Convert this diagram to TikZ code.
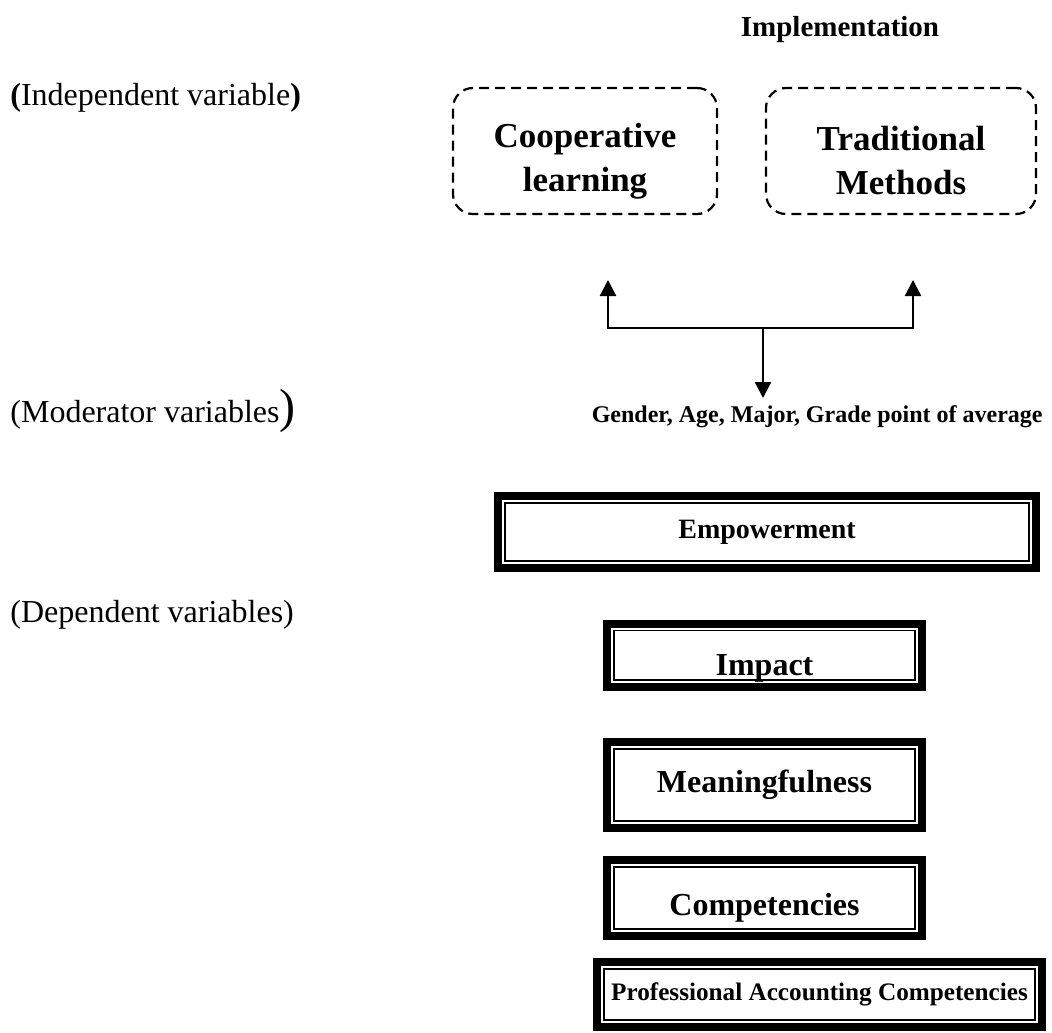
\documentclass[tikz,border=0pt]{standalone}
\usepackage{fontspec}
\setmainfont{Liberation Serif}
\usetikzlibrary{arrows.meta, positioning}
\tikzstyle{arrow} = [line width=1.2pt, -{Triangle[length=8pt, width=8pt]}]
\tikzstyle{method} = [
    rectangle, rounded corners=10pt, draw=black, line width=1.1pt,
    dash pattern=on 5pt off 3pt, minimum height=63pt
]
\tikzstyle{methodtext} = [
    align=center, inner sep=0pt, font=\fontsize{17.5}{22}\selectfont\bfseries
]
\tikzstyle{varlabel} = [anchor=base west, inner sep=0pt, font=\fontsize{16}{18}\selectfont]
\tikzstyle{thickthin} = [
    rectangle, draw=black, line width=4pt, text centered, inner sep=0pt,
    font=\fontsize{16}{18}\selectfont\bfseries,
    path picture={\draw[line width=0.8pt]
        ([shift={(3.4pt,-3.4pt)}]path picture bounding box.north west) rectangle
        ([shift={(-3.4pt,3.4pt)}]path picture bounding box.south east);}
]

\begin{document}
\begin{tikzpicture}[x=0.5pt, y=-0.5pt]
\useasboundingbox (0,0) rectangle (1052,1032);

% Etiquetas das variaveis
\node (Impl) at (840,30) [font=\fontsize{14.5}{17}\selectfont\bfseries, inner sep=0pt] {Implementation};
\node (L_ind) at (10,106) [varlabel] {{\bfseries (}Independent variable{\bfseries )}};
\node (L_mod) at (10,422) [varlabel] {(Moderator variables{\fontsize{24}{24}\selectfont )}};
\node (L_dep) at (10,622) [varlabel] {(Dependent variables)};

% Metodos
\node (Coop) at (585,151) [method, minimum width=132pt] {};
\node (Trad) at (901,151) [method, minimum width=135pt] {};
\node (CoopText) at (Coop) [methodtext, yshift=-5pt] {Cooperative\\learning};
\node (TradText) at (Trad) [methodtext, yshift=-5pt] {Traditional\\Methods};

% Moderadores
\node (Mod) at (1043,422) [anchor=base east, inner sep=0pt, font=\fontsize{12}{15}\selectfont\bfseries]
    {Gender, Age, Major, Grade point of average};

% Variaveis dependentes
\node (Emp) at (767,532) [thickthin, minimum width=269pt, minimum height=36pt, font=\fontsize{14}{16}\selectfont\bfseries] {Empowerment};
\node (Imp) at (764.5,655) [thickthin, minimum width=157.5pt, minimum height=31.5pt, text height=24pt, text depth=3.5pt] {Impact};
\node (Mean) at (764.5,785) [thickthin, minimum width=157.5pt, minimum height=43pt] {Meaningfulness};
\node (Comp) at (764.5,898) [thickthin, minimum width=157.5pt, minimum height=38pt, text height=21pt, text depth=3.5pt] {Competencies};
\node (PAC) at (819.5,994.5) [thickthin, minimum width=222.5pt, minimum height=32.5pt, font=\fontsize{12.6}{15}\selectfont\bfseries] {Professional Accounting Competencies};

% Setas
\coordinate (split) at (763,328);
\coordinate (coopTip) at (608,280);
\coordinate (tradTip) at (913,280);
\coordinate (modTip) at (763,398);
\draw [arrow] (split) -| (coopTip);
\draw [arrow] (split) -| (tradTip);
\draw [arrow] (split) -- (modTip);

\end{tikzpicture}
\end{document}
